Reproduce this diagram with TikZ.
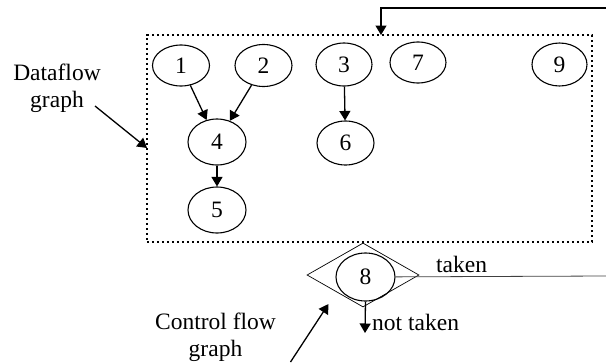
\documentclass[tikz,border=0pt]{standalone}
\usepackage{fontspec}
\setmainfont{Liberation Serif}
\usetikzlibrary{shapes.geometric,arrows.meta}
\tikzset{
  op/.style={ellipse,draw,line width=1.1pt,inner sep=0pt},
  arr/.style={line width=1.3pt,-{Triangle[length=9.5pt,width=11pt]}},
  region/.style={draw,line width=1.9pt,dash pattern=on 2.4pt off 2.6pt,inner sep=0pt},
  lbl/.style={inner sep=0pt,align=center},
}
\begin{document}
\begin{tikzpicture}[x=1pt,y=-1pt,font=\fontsize{23.5}{27}\selectfont]
\useasboundingbox (0,0) rectangle (606,362);

% dataflow region
\node[region,minimum width=445pt,minimum height=207pt] (dfg) at (369.5,138.5) {};

% operations inside the dataflow region
\node[op,minimum width=57pt,minimum height=41pt] (n1) at (181,65.5) {1};
\node[op,minimum width=57pt,minimum height=42pt] (n2) at (263.5,65.5) {2};
\node[op,minimum width=56pt,minimum height=43pt] (n3) at (344,64.5) {3};
\node[op,minimum width=56pt,minimum height=41pt] (n7) at (418,62.5) {7};
\node[op,minimum width=55pt,minimum height=43pt] (n9) at (559.5,64.5) {9};
\node[op,minimum width=58pt,minimum height=46pt] (n4) at (217,142) {4};
\node[op,minimum width=57pt,minimum height=44pt] (n6) at (345.5,143) {6};
\node[op,minimum width=58pt,minimum height=46pt] (n5) at (217,210) {5};

\draw[arr] (n1) -- (n4);
\draw[arr] (n2) -- (n4);
\draw[arr] (n3) -- (n6);
\draw[arr] (n4) -- (n5);

% branch node
\node[diamond,draw,line width=0.7pt,inner sep=0pt,aspect=1.75,minimum width=112pt,minimum height=64pt] (br) at (363,275) {};
\node[op,minimum width=59pt,minimum height=48pt] (n8) at (365.5,277) {8};

\coordinate (takenend) at (606,276);
\coordinate (loopin) at (606,8);
\coordinate (entry) at (381,35);
\coordinate (nt) at (365,333);
\draw[line width=0.8pt,black!75] (n8) -- (takenend);
\draw[arr] (loopin) -| (entry);
\draw[arr] (n8.south) -- (nt);

\node[lbl,anchor=base west] (taken) at (436,272.5) {taken};
\node[lbl,anchor=base west] (nottaken) at (372,330) {not taken};

% annotations
\node[lbl,anchor=base] (dflabel) at (57,107) {Dataflow\\graph};
\node[lbl,anchor=base] (cflabel) at (215.5,356) {Control flow\\graph};
\coordinate (dfstart) at (95,106);
\coordinate (dftip) at (147,148);
\coordinate (cfstart) at (290.5,362);
\coordinate (cftip) at (328.5,304);
\draw[arr] (dfstart) -- (dftip);
\draw[arr] (cfstart) -- (cftip);
\end{tikzpicture}
\end{document}
